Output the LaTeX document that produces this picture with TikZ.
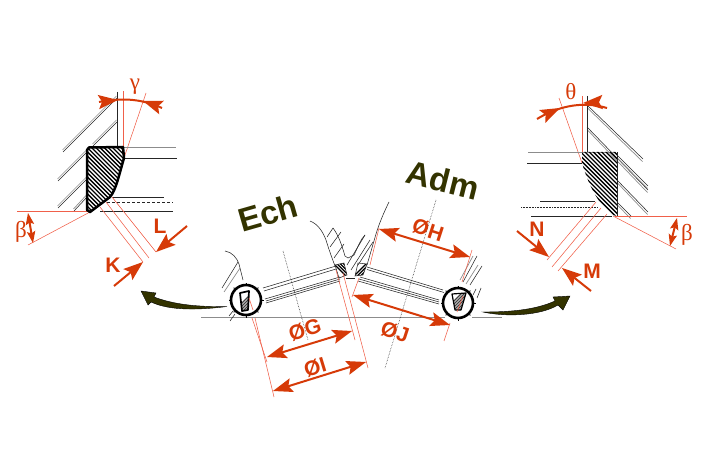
\documentclass[tikz,border=0pt]{standalone}
\usepackage{fontspec}
\setmainfont{Liberation Sans}
\newfontfamily\grk{Liberation Serif}
\usetikzlibrary{calc}
\definecolor{rd}{HTML}{D63A08}
\definecolor{ltrd}{HTML}{F0604A}
\definecolor{olv}{HTML}{333300}
\tikzset{
 thin red/.style={draw=ltrd,line width=0.55pt},
 ink/.style={draw=black!85,line width=0.55pt},
 grey/.style={draw=black!45,line width=0.7pt},
 dimtxt/.style={text=rd,font=\bfseries\fontsize{21}{21}\selectfont,inner sep=0pt},
 grktxt/.style={text=rd,font=\grk\fontsize{23}{23}\selectfont,inner sep=0pt},
 titletxt/.style={text=olv,font=\bfseries\fontsize{33}{33}\selectfont,inner sep=0pt},
 disc/.style={draw=black,line width=2.6pt,fill=white},
}
% head with its tip at #1, coming from #2, scaled by #3
\newcommand\headat[3]{\fill[rd] let \p1=($(#1)-(#2)$),\n1={atan2(\y1,\x1)} in
 (#1) -- ($(#1)+(\n1+160:21pt*#3)$) -- ($(#1)+(\n1+180:16pt*#3)$) -- ($(#1)+(\n1-160:21pt*#3)$) -- cycle;}
\newcommand\dimone[2]{\draw[rd,line width=2pt] (#1)--($(#2)!10pt!(#1)$); \headat{#2}{#1}{1}}
\newcommand\dimtwo[2]{\draw[rd,line width=2pt] ($(#1)!10pt!(#2)$)--($(#2)!10pt!(#1)$); \headat{#2}{#1}{1}\headat{#1}{#2}{1}}
\newcommand\dimsmall[2]{\draw[rd,line width=2pt] ($(#1)!5pt!(#2)$)--($(#2)!5pt!(#1)$); \headat{#2}{#1}{0.6}\headat{#1}{#2}{0.6}}
\begin{document}
\begin{tikzpicture}[x=1pt,y=-1pt]
\useasboundingbox (0,0) rectangle (709,473);
% LEFT DETAIL -------------------------------------------------
\foreach \a/\b/\c/\d in {63/152/117/98, 58/181/87/152, 93/146/117/122, 58/208/87/179, 74/211/87/197}{
 \draw[ink] (\a,\b)--(\c,\d);
 \draw[grey] (\a-0.5,\b-2)--(\c-0.5,\d-2);
}
\draw[ink] (117,92)--(117,147);
\draw[thin red] (123,91)--(123,147);
\draw[thin red] (124,158)--(146,93);
\draw[grey] (124,147)--(176,147);
\draw[ink] (124,158)--(177,158);
\draw[ink] (112,197)--(164,197);
\draw[ink,densely dashed] (107,202.5)--(173,202.5);
\draw[ink] (100,211)--(173,211);
\draw[thin red] (17,211)--(90,211);
\draw[thin red] (90,212)--(28,245);
\begin{scope}
 \clip (87,148)--(123,147)--(124,158) .. controls (119,175) and (116,190) .. (110,197)--(90,212)--(87,210)--cycle;
 \foreach \i in {0,4.2,...,150}{\draw[black,line width=1.3pt] (80+\i,220)--(80+\i-80,140);}
\end{scope}
\draw[black,line width=2.5pt,line join=round] (87,150)--(89,147.5)--(123,147)--(124,158) .. controls (119,175) and (116,190) .. (110,197)--(90,212)--(87,210)--cycle;
\draw[rd,line width=2pt] (99,102) .. controls (120,98) and (140,98) .. (162,108);
\headat{118,100}{99,102}{1}
\headat{143,101}{163,108}{1}
\node[grktxt] (gamma) at (135,87) {γ};
\dimsmall{28,213}{33,243}
\node[grktxt] (beta1) at (21,232) {β};
\draw[thin red] (100,207)--(143,262);
\draw[thin red] (106,202)--(149,258);
\draw[thin red] (112,197)--(156,252);
\dimone{187,226}{156,252}
\dimone{114,286}{143,262}
\node[dimtxt] (L) at (160,226) {L};
\node[dimtxt] (K) at (113,265) {K};
% RIGHT DETAIL ------------------------------------------------
\foreach \a/\b/\c/\d in {587/105/643/159, 587/127/648/190, 617/155/648/186, 617/180/648/212, 617/202/631/216}{
 \draw[ink] (\a,\b)--(\c,\d);
 \draw[grey] (\a,\b+2.5)--(\c-0.5,\d+2.5);
}
\draw[ink] (587,96)--(587,152);
\draw[thin red] (582,96)--(582,152);
\draw[thin red] (559,98)--(582,163);
\draw[grey] (528,152)--(615,152);
\draw[ink] (527,163)--(582,163);
\draw[ink] (540,201)--(595,201);
\draw[ink,densely dotted] (521,207)--(597,207);
\draw[ink] (531,216)--(612,216);
\draw[thin red] (615,216)--(687,216);
\draw[thin red] (613,216)--(676,249);
\begin{scope}
 \clip (582,152)--(617,152)--(617,216)--(612,215) .. controls (600,205) and (590,190) .. (582,163)--cycle;
 \foreach \i in {0,4.2,...,150}{\draw[black,line width=1.3pt] (510+\i,140)--(510+\i+90,230);}
\end{scope}
\draw[ink] (617,152)--(617,216);
\draw[rd,line width=2pt] (537,119) .. controls (555,108) and (580,100) .. (607,108);
\headat{560,108}{537,119}{1}
\headat{583,103}{603,102}{1}
\node[grktxt] (theta) at (571,92) {θ};
\dimsmall{677,218}{670,246}
\node[grktxt] (beta2) at (687,235) {β};
\draw[thin red] (596,202)--(547,260);
\draw[thin red] (601,208)--(552,267);
\draw[thin red] (607,214)--(558,271);
\dimone{517,231}{549,257}
\dimone{591,291}{562,268}
\node[dimtxt] (N) at (537,229) {N};
\node[dimtxt] (M) at (592,271) {M};
% CENTRE ------------------------------------------------------
\draw[grey] (201,317.5)--(445,317.5);
\draw[grey] (472,317.5)--(502,317.5);
\draw[ink,densely dotted] (283,251)--(308,340);
\draw[ink,densely dotted] (436,200)--(385,368);
% stems
\foreach \a/\b/\c/\d in {263/288/336/266, 264/291/336/269, 265/299/340/277, 266/301/340/279, 266/303/340/281,
 367/267/443/290, 367/269.5/444/292.5, 360/277/439/300, 359/279/439/302, 358/281/439/304}{
 \draw[ink] (\a,\b)--(\c,\d);
}
% head contours
\draw[ink] (310,221) .. controls (318,224) and (323,232) .. (326,240) .. controls (329,250) and (332,258) .. (335,266);
\draw[ink] (333,228) .. controls (339,236) and (342,246) .. (345,256) -- (348,258) -- (354,255) .. controls (358,247) and (360,240) .. (365,235);
\draw[ink] (346,278)--(355,278);
\draw[ink] (367,265) -- (376,234) .. controls (379,224) and (384,212) .. (389,202);
\foreach \a/\b/\c/\d in {327/237/333/228, 330/247/341/232, 334/258/344/244, 347/265/365/235, 351/270/370/240, 358/265/373/242}{
 \draw[ink] (\a,\b)--(\c,\d);
}
% seats
\begin{scope}
 \clip (335,265)--(344,263)--(347,275)--(339,278)--cycle;
 \foreach \i in {0,3.2,...,45}{\draw[black,line width=1.2pt] (325+\i,255)--(325+\i+30,285);}
\end{scope}
\draw[ink] (335,265)--(344,263)--(347,275)--(339,278)--cycle;
\begin{scope}
 \clip (358,263)--(367,264)--(363,275)--(355,276)--cycle;
 \foreach \i in {0,3.2,...,45}{\draw[black,line width=1.2pt] (345+\i,285)--(345+\i+30,255);}
\end{scope}
\draw[ink] (358,263)--(367,264)--(363,275)--(355,276)--cycle;
% left valve seat
\draw[ink] (225,251) .. controls (232,252) and (237,258) .. (239,264)--(243,280);
\draw[ink] (222,288)--(238,262);
\draw[grey] (224,292)--(240,268);
\draw[ink] (230,321)--(235,314);
\draw[ink] (229,316)--(233,311);
% right valve seat
\draw[ink] (463,282)--(477,256);
\draw[grey] (460,280)--(473,256);
\draw[ink] (470,285)--(482,266);
\draw[grey] (466,284)--(478,265);
\draw[ink] (477,298)--(481,288);
\draw[ink] (473,295)--(476,289);
% discs
\node[disc,circle,minimum size=30pt,inner sep=0pt] (discL) at (246,300) {};
\node[disc,circle,minimum size=30pt,inner sep=0pt] (discR) at (458,303) {};
\foreach \t in {0,45,...,315}{
 \draw[black,line width=1pt] (discL.\t) -- ++(\t:1.2pt);
 \draw[black,line width=1pt] (discR.\t) -- ++(\t:1.2pt);
}
\begin{scope}
 \clip (240,293)--(249,291)--(248,310)--(242,311)--cycle;
 \foreach \i in {0,3,...,36}{\draw[black!75,line width=1.1pt] (230+\i,315)--(230+\i+24,291);}
\end{scope}
\draw[black,line width=1.7pt,line join=round] (240,293)--(249,291)--(248,310)--(242,311)--cycle;
\draw[thin red] (249,298)--(253,310);
\begin{scope}
 \clip (452,294)--(466,293)--(461,310)--(455,310)--cycle;
 \foreach \i in {0,3,...,36}{\draw[black!75,line width=1.1pt] (440+\i,315)--(440+\i+24,291);}
\end{scope}
\draw[black,line width=1.2pt,line join=round] (452,294)--(466,293)--(461,310)--(455,310)--cycle;
\draw[thin red] (463,296)--(457,312);
% black arrows
\filldraw[fill=olv,draw=black,line width=0.4pt] (141,291)--(156,293)--(154,297) .. controls (175,305) and (200,307) .. (227,306.5) .. controls (200,310) and (170,311) .. (151,302)--(148,305)--cycle;
\filldraw[fill=olv,draw=black,line width=0.4pt] (570,296)--(553,297)--(555,301) .. controls (535,310) and (510,312) .. (483,312) .. controls (505,317) and (540,316) .. (558,305)--(563,310)--cycle;
% dimension lines
\draw[thin red] (370,265)--(379,228);
\draw[thin red] (462,282)--(472,250);
\dimtwo{379,229}{470,257}
\node[dimtxt,rotate=-18] (H) at (428,230) {ØH};
\draw[thin red] (359,278)--(352,297);
\draw[thin red] (450,323)--(444,341);
\dimtwo{353,295}{450,325}
\node[dimtxt,rotate=-18] (J) at (395,332) {ØJ};
\draw[thin red] (252,318)--(267,362);
\draw[thin red] (255,318)--(274,397);
\draw[thin red] (336,270)--(355,340);
\draw[thin red] (343,273)--(368,368);
\dimtwo{267,357}{352,331}
\dimtwo{273,391}{366,362}
\node[dimtxt,rotate=17] (G) at (305,330) {ØG};
\node[dimtxt,rotate=17] (I) at (315,367) {ØI};
% titles
\node[titletxt,rotate=16] (Ech) at (268,213) {Ech};
\node[titletxt,rotate=-14] (Adm) at (443,180) {Adm};
\end{tikzpicture}
\end{document}
